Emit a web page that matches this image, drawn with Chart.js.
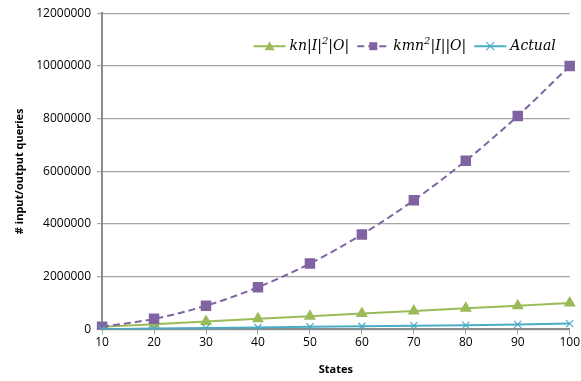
<!DOCTYPE html>
<html>
<head>
<meta charset="utf-8">
<script src="https://cdn.jsdelivr.net/npm/chart.js@4"></script>
<style>
    html, body { margin: 0; padding: 0; background: #fff; overflow: hidden; }
    #wrap { width: 581px; height: 381px; }
</style>
</head>
<body>
<div id="wrap"><canvas id="chart"></canvas></div>
<script>
// --- Données ---
const states = ['10', '20', '30', '40', '50', '60', '70', '80', '90', '100'];
const knI2O  = [100000, 200000, 300000, 400000, 500000, 600000, 700000, 800000, 900000, 1000000];
const kmn2IO = [100000, 400000, 900000, 1600000, 2500000, 3600000, 4900000, 6400000, 8100000, 10000000];
const actual = [10000, 30000, 50000, 70000, 100000, 120000, 140000, 160000, 190000, 220000];
const yTicks = [0, 2000000, 4000000, 6000000, 8000000, 10000000, 12000000];

// libellés de légende : [texte, exposant?]
const legendParts = [
    [['kn|I|', false], ['2', true], ['|O|', false]],
    [['kmn', false], ['2', true], ['|I||O|', false]],
    [['Actual', false]]
];

const GREEN  = '#9BBB59';
const PURPLE = '#8064A2';
const BLUE   = '#4BACC6';

const LEGEND_FONT = 'italic 14px "DejaVu Serif"';
const SUP_FONT    = 'italic 10px "DejaVu Serif"';

// --- Icône ligne + marqueur (style Excel) ---
function drawIcon(ctx, x, y, color, dashed, marker) {
    ctx.save();
    ctx.strokeStyle = color;
    ctx.fillStyle = color;
    ctx.lineWidth = 2;
    if (dashed) ctx.setLineDash([7, 4]);
    ctx.beginPath();
    ctx.moveTo(x, y);
    ctx.lineTo(x + 32, y);
    ctx.stroke();
    ctx.setLineDash([]);
    const cx = x + 16;
    if (marker === 'triangle') {
        ctx.beginPath();
        ctx.moveTo(cx, y - 5);
        ctx.lineTo(cx + 5, y + 4);
        ctx.lineTo(cx - 5, y + 4);
        ctx.closePath();
        ctx.fill();
    } else if (marker === 'rect') {
        ctx.fillRect(cx - 4, y - 4, 8, 8);
    } else {
        ctx.lineWidth = 1.2;
        ctx.beginPath();
        ctx.moveTo(cx - 4, y - 4); ctx.lineTo(cx + 4, y + 4);
        ctx.moveTo(cx + 4, y - 4); ctx.lineTo(cx - 4, y + 4);
        ctx.stroke();
    }
    ctx.restore();
}

function partsWidth(ctx, parts) {
    let w = 0;
    parts.forEach(([t, sup]) => {
        ctx.font = sup ? SUP_FONT : LEGEND_FONT;
        w += ctx.measureText(t).width;
    });
    return w;
}

// --- Légende horizontale dans la zone du graphique ---
const excelLegend = {
    id: 'excelLegend',
    afterDraw(chart) {
        const ctx = chart.ctx;
        const area = chart.chartArea;
        const y = area.top + 33;
        const icons = [
            [GREEN, false, 'triangle'],
            [PURPLE, true, 'rect'],
            [BLUE, false, 'cross']
        ];
        const iconW = 32, gapIcon = 4, gapItem = 8;

        ctx.save();
        let total = 0;
        legendParts.forEach((p, i) => {
            total += iconW + gapIcon + partsWidth(ctx, p);
            if (i < legendParts.length - 1) total += gapItem;
        });

        let x = area.right - 14 - total;
        legendParts.forEach((parts, i) => {
            drawIcon(ctx, x, y, ...icons[i]);
            x += iconW + gapIcon;
            ctx.fillStyle = '#000';
            ctx.textBaseline = 'middle';
            parts.forEach(([t, sup]) => {
                ctx.font = sup ? SUP_FONT : LEGEND_FONT;
                ctx.fillText(t, x, sup ? y - 5 : y);
                x += ctx.measureText(t).width;
            });
            x += gapItem;
        });
        ctx.restore();
    }
};

new Chart(document.getElementById('chart'), {
    type: 'line',
    data: {
        labels: states,
        datasets: [
            {
                label: 'kn|I|²|O|',
                data: knI2O,
                borderColor: GREEN,
                backgroundColor: GREEN,
                borderWidth: 2,
                pointStyle: 'triangle',
                pointRadius: 5,
                tension: 0,
                order: 3
            },
            {
                label: 'kmn²|I||O|',
                data: kmn2IO,
                borderColor: PURPLE,
                backgroundColor: PURPLE,
                borderWidth: 2,
                borderDash: [7, 4],
                pointStyle: 'rect',
                pointRadius: 6,
                cubicInterpolationMode: 'monotone',
                order: 2
            },
            {
                label: 'Actual',
                data: actual,
                borderColor: BLUE,
                backgroundColor: BLUE,
                borderWidth: 2,
                pointStyle: 'crossRot',
                pointRadius: 5,
                pointBorderWidth: 1.2,
                tension: 0,
                order: 1
            }
        ]
    },
    plugins: [excelLegend],
    options: {
        responsive: true,
        maintainAspectRatio: false,
        animation: false,
        layout: { padding: { top: 6, right: 0, left: 9, bottom: 1 } },
        plugins: {
            tooltip: { enabled: false },
            legend: { display: false }
        },
        scales: {
            x: {
                offset: false,
                grid: {
                    drawOnChartArea: false,
                    drawTicks: true,
                    tickLength: 5,
                    color: '#a6a6a6',
                    offset: false
                },
                border: { color: '#8c8c8c', width: 2 },
                ticks: {
                    color: '#000',
                    font: { family: 'Open Sans', size: 12 },
                    maxRotation: 0,
                    padding: 1
                },
                title: {
                    display: true,
                    text: 'States',
                    color: '#000',
                    font: { family: 'Open Sans', size: 11, weight: 'bold' },
                    padding: { top: 12 }
                }
            },
            y: {
                min: 0,
                max: 12000000,
                afterBuildTicks(axis) {
                    axis.ticks = yTicks.map(v => ({ value: v }));
                },
                grid: {
                    color: '#a6a6a6',
                    tickLength: 5,
                    lineWidth: 1.2
                },
                border: { color: '#8c8c8c', width: 2 },
                ticks: {
                    color: '#000',
                    font: { family: 'Open Sans', size: 12 },
                    padding: 6,
                    callback: v => String(v)
                },
                title: {
                    display: true,
                    text: '# input/output queries',
                    color: '#000',
                    font: { family: 'Open Sans', size: 11, weight: 'bold' },
                    padding: { bottom: 4 }
                }
            }
        }
    }
});
</script>
</body>
</html>
